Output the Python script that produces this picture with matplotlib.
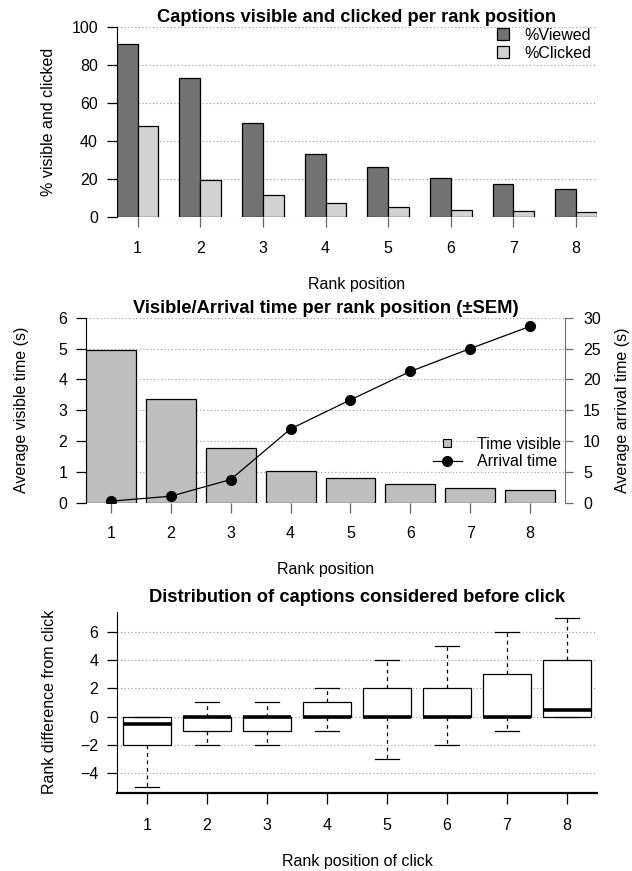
import matplotlib
matplotlib.use("Agg")
import matplotlib.pyplot as plt
from matplotlib.patches import Patch
from matplotlib.lines import Line2D

plt.rcParams["font.family"] = ["Liberation Sans", "DejaVu Sans"]

# --------- data ---------
ranks = [1, 2, 3, 4, 5, 6, 7, 8]
pct_viewed = [90.9, 73.3, 49.6, 33.4, 26.1, 20.4, 17.2, 14.7]
pct_clicked = [47.8, 19.3, 11.4, 7.5, 5.4, 3.8, 3.0, 2.4]

visible_time = [4.97, 3.37, 1.79, 1.05, 0.80, 0.61, 0.50, 0.43]
arrival_time = [0.3, 1.1, 3.8, 12.0, 16.7, 21.3, 25.0, 28.6]

# box stats: rank difference from click
whis_lo = [-5, -2, -2, -1, -3, -2, -1, 0]
q1s     = [-2, -1, -1, 0, 0, 0, 0, 0]
meds    = [-0.5, 0, 0, 0, 0, 0, 0, 0.5]
q3s     = [0, 0, 0, 1, 2, 2, 3, 4]
whis_hi = [0, 1, 1, 2, 4, 5, 6, 7]

# --------- style ---------
W, H = 632, 871
DARK = "#727272"
LIGHT = "#d3d3d3"
MID = "#bebebe"
GRID = dict(color="#9a9a9a", linestyle=(0, (1, 2.2)), linewidth=0.8)
FS = 11.5
TFS = 13.2

fig = plt.figure(figsize=(W / 100, H / 100), dpi=100)

def px_axes(l, t, r, b):
    return fig.add_axes([l / W, 1 - b / H, (r - l) / W, (b - t) / H])

def ftext(x, y, s, **kw):
    fig.text(x / W, 1 - y / H, s, ha="center", va="center", **kw)

# --------- panel 1: % viewed / clicked ---------
ax1 = px_axes(116.7, 27, 597, 217)
left_dark = [1 + 3 * i for i in range(len(ranks))]
left_light = [2 + 3 * i for i in range(len(ranks))]
ax1.bar(left_dark, pct_viewed, width=1, align="edge", color=DARK,
        edgecolor="black", linewidth=0.9, zorder=3)
ax1.bar(left_light, pct_clicked, width=1, align="edge", color=LIGHT,
        edgecolor="black", linewidth=0.9, zorder=3)
ax1.set_xlim(1, 24)
ax1.set_ylim(0, 100)
ax1.set_yticks([0, 20, 40, 60, 80, 100])
for v in [0, 20, 40, 60, 80, 100]:
    ax1.axhline(v, zorder=1, **GRID)
ax1.set_xticks(left_light, [str(r) for r in ranks])
for s in ["top", "right", "bottom"]:
    ax1.spines[s].set_visible(False)
ax1.tick_params(axis="y", direction="out", length=7, width=0.9, pad=6.5, labelsize=FS)
ax1.tick_params(axis="x", direction="out", length=7.5, width=0.9, pad=10,
                labelsize=FS, color="#666666")
leg1 = ax1.legend(handles=[Patch(facecolor=DARK, edgecolor="black", linewidth=0.9),
                           Patch(facecolor=LIGHT, edgecolor="black", linewidth=0.9)],
                  labels=["%Viewed", "%Clicked"], loc="upper left",
                  bbox_to_anchor=(497 / W, 1 - 28 / H), bbox_transform=fig.transFigure,
                  frameon=False, fontsize=FS, borderpad=0, borderaxespad=0,
                  handlelength=0.78, handleheight=0.78, handletextpad=0.95,
                  labelspacing=0.18)
ftext(356.8, 17, "Captions visible and clicked per rank position",
      fontsize=TFS, fontweight="bold")
ftext(49, 122, "% visible and clicked", fontsize=FS, rotation=90)
ftext(356.8, 285, "Rank position", fontsize=FS)

# --------- panel 2: visible / arrival time ---------
ax2 = px_axes(86, 317.7, 565, 503)
bar_left = [0.2 + 1.2 * i for i in range(len(ranks))]
bar_mid = [b + 0.5 for b in bar_left]
ax2.bar(bar_left, visible_time, width=1, align="edge", color=MID,
        edgecolor="black", linewidth=0.9, zorder=3)
ax2.set_xlim(0.2, 9.8)
ax2.set_ylim(0, 6)
ax2.set_yticks(range(0, 7))
for v in range(0, 7):
    ax2.axhline(v, zorder=1, **GRID)
ax2.set_xticks(bar_mid, [str(r) for r in ranks])
for s in ["top", "right", "bottom"]:
    ax2.spines[s].set_visible(False)
ax2.tick_params(axis="y", direction="out", length=7, width=0.9, pad=6.5, labelsize=FS)
ax2.tick_params(axis="x", direction="out", length=7, width=0.9, pad=9.5,
                labelsize=FS, color="#666666")

ax2b = ax2.twinx()
ax2b.plot(bar_mid, arrival_time, color="black", linewidth=0.9, marker="o",
          markersize=7, zorder=5)
ax2b.set_ylim(0, 30)
ax2b.set_yticks(range(0, 31, 5))
for s in ["top", "left", "bottom"]:
    ax2b.spines[s].set_visible(False)
ax2b.spines["right"].set_color("#6f6f6f")
ax2b.tick_params(axis="y", direction="out", length=6, width=0.9, pad=7,
                 labelsize=FS, color="#6f6f6f")
leg2 = ax2b.legend(handles=[Line2D([], [], marker="s", linestyle="none", markersize=5.5,
                                   markerfacecolor=MID, markeredgecolor="black",
                                   markeredgewidth=0.8),
                            Line2D([], [], marker="o", color="black", linewidth=0.9,
                                   markersize=7)],
                   labels=["Time visible", "Arrival time"], loc="upper left",
                   bbox_to_anchor=(432.7 / W, 1 - 437 / H), bbox_transform=fig.transFigure,
                   frameon=False, fontsize=FS, borderpad=0, borderaxespad=0,
                   handlelength=1.85, handletextpad=0.9, labelspacing=0.15)
ftext(325.5, 308.3, "Visible/Arrival time per rank position (\u00b1SEM)",
      fontsize=TFS, fontweight="bold")
ftext(21.5, 410, "Average visible time (s)", fontsize=FS, rotation=90)
ftext(623, 410, "Average arrival time (s)", fontsize=FS, rotation=90)
ftext(325.5, 569.3, "Rank position", fontsize=FS)

# --------- panel 3: boxplots ---------
ax3 = px_axes(117, 611.7, 597, 793.3)
stats = [dict(whislo=lo, q1=a, med=m, q3=b, whishi=hi, fliers=[])
         for lo, a, m, b, hi in zip(whis_lo, q1s, meds, q3s, whis_hi)]
for v in [-4, -2, 0, 2, 4, 6]:
    ax3.axhline(v, zorder=1, **GRID)
ax3.bxp(stats, positions=ranks, widths=0.8, capwidths=0.4, patch_artist=True,
        boxprops=dict(facecolor="white", edgecolor="black", linewidth=0.9),
        whiskerprops=dict(color="black", linestyle=(0, (3, 3)), linewidth=0.9),
        capprops=dict(color="black", linewidth=0.9),
        medianprops=dict(color="black", linewidth=2.6, solid_capstyle="butt"),
        zorder=3)
ax3.set_xlim(0.5, 8.5)
ax3.set_ylim(-5.48, 7.48)
ax3.set_yticks([-4, -2, 0, 2, 4, 6])
ax3.set_xticks(ranks, [str(r) for r in ranks])
for s in ["top", "right"]:
    ax3.spines[s].set_visible(False)
ax3.spines["bottom"].set_linewidth(1.6)
ax3.tick_params(axis="y", direction="out", length=7, width=0.9, pad=6.5, labelsize=FS)
ax3.tick_params(axis="x", direction="out", length=8, width=0.9, pad=10, labelsize=FS)
ftext(357, 597.3, "Distribution of captions considered before click",
      fontsize=TFS, fontweight="bold")
ftext(50, 702, "Rank difference from click", fontsize=FS, rotation=90)
ftext(357, 861.7, "Rank position of click", fontsize=FS)

fig.savefig("out.png", dpi=100)
